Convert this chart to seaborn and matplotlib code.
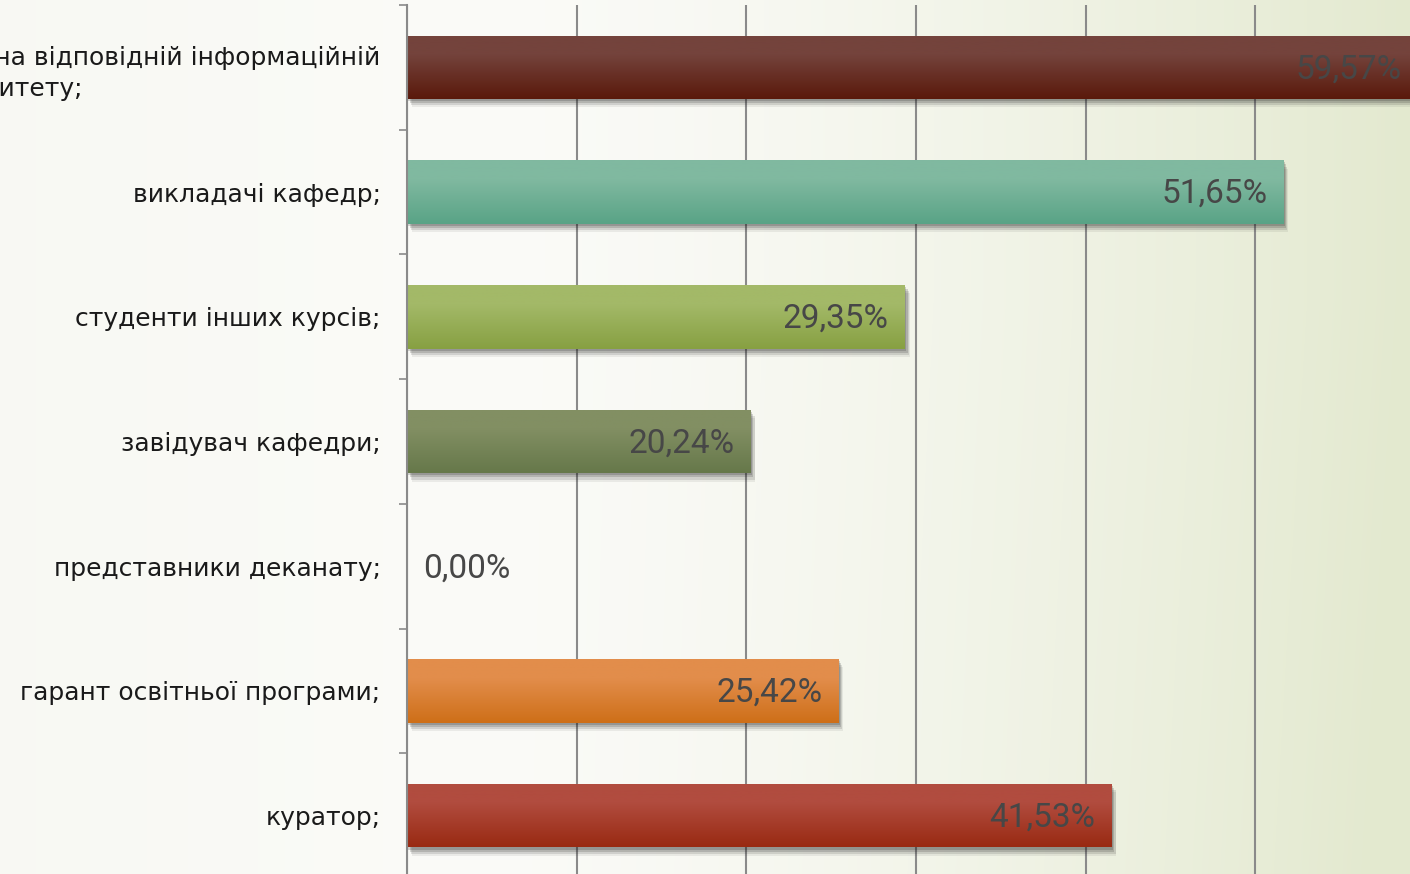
import numpy as np
import pandas as pd
import matplotlib
matplotlib.use("Agg")
import matplotlib.pyplot as plt
import matplotlib.patheffects as pe
from matplotlib.colors import to_rgb
import seaborn as sns

# --- données ---
categories = [
    "вся інформація на відповідній інформаційній\nсторінці університету;",
    "викладачі кафедр;",
    "студенти інших курсів;",
    "завідувач кафедри;",
    "представники деканату;",
    "гарант освітньої програми;",
    "куратор;",
]
values = [59.57, 51.65, 29.35, 20.24, 0.00, 25.42, 41.53]
top_colors = ["#74433c", "#80b9a0", "#a3b968", "#828f63", "#cccccc", "#e28d4b", "#b14c3f"]
bottom_colors = ["#5a190b", "#59a386", "#87a042", "#66784a", "#aaaaaa", "#ce6f18", "#992a12"]
xticks = [0, 10, 20, 30, 40, 50, 60]

df = pd.DataFrame({"categorie": categories, "valeur": values})

sns.set_theme(style="white")
plt.rcParams["font.family"] = ["DejaVu Sans"]

fig = plt.figure(figsize=(14.1, 8.74), dpi=100)

# --- fond dégradé ---
bg = fig.add_axes([0, 0, 1, 1], zorder=-10)
H, W = 874, 1410
yy, xx = np.mgrid[0:H, 0:W]
u = np.clip((xx - 450) / 960.0, 0, 1)
t = u ** 1.6
t = t + 0.12 * np.clip((480 - xx) / 480.0, 0, 1)
t = t + 0.06 * np.clip((yy - 300) / 574.0, 0, 1) * u
t = np.clip(t, 0, 1)
c0 = np.array(to_rgb("#fbfbf8"))
c1 = np.array(to_rgb("#e3e9cf"))
img = c0[None, None, :] * (1 - t[..., None]) + c1[None, None, :] * t[..., None]
bg.imshow(img, aspect="auto", extent=(0, 1, 0, 1))
bg.set_axis_off()

# --- graphique ---
ax = fig.add_axes([407 / 1410, -4 / 874, 1018 / 1410, 873 / 874])
ax.set_facecolor("none")

sns.barplot(data=df, x="valeur", y="categorie", hue="categorie",
            palette=top_colors, legend=False, width=0.51, orient="h",
            linewidth=0, ax=ax, zorder=3)

ax.set_xlim(0, 60)
ylim = ax.get_ylim()

# dégradé et ombre sur chaque barre
for bar, ctop, cbot in zip(ax.patches, top_colors, bottom_colors):
    w = bar.get_width()
    if w <= 0:
        bar.set_visible(False)
        continue
    bar.set_linewidth(0)
    bar.set_path_effects([
        pe.SimplePatchShadow(offset=(1.0, -1.5), shadow_rgbFace="k", alpha=0.18),
        pe.SimplePatchShadow(offset=(2.0, -3.0), shadow_rgbFace="k", alpha=0.16),
        pe.SimplePatchShadow(offset=(3.0, -4.5), shadow_rgbFace="k", alpha=0.12),
        pe.SimplePatchShadow(offset=(3.5, -6.0), shadow_rgbFace="k", alpha=0.07),
        pe.Normal(),
    ])
    s = np.linspace(0, 1, 100)
    k = np.clip((s - 0.3) / 0.7, 0, 1)
    grad = (np.array(to_rgb(ctop))[None, :] * (1 - k[:, None])
            + np.array(to_rgb(cbot))[None, :] * k[:, None])
    y0 = bar.get_y()
    h = bar.get_height()
    im = ax.imshow(grad[:, None, :], aspect="auto", origin="upper",
                   extent=(bar.get_x(), bar.get_x() + w, y0 + h, y0), zorder=4)
    im.set_clip_path(bar)

ax.set_xlim(0, 60)
ax.set_ylim(ylim)

# étiquettes de valeur
for i, v in enumerate(values):
    txt = f"{v:.2f}".replace(".", ",") + "%"
    if v > 0:
        ax.annotate(txt, (v, i), xytext=(-16, -2), textcoords="offset pixels",
                    ha="right", va="center", fontsize=24, color="#474747",
                    family="Roboto", fontweight="normal", zorder=6)
    else:
        ax.annotate(txt, (v, i), xytext=(16, -2), textcoords="offset pixels",
                    ha="left", va="center", fontsize=24, color="#474747",
                    family="Roboto", fontweight="normal", zorder=6)

# axes, grille, graduations
ax.set_xticks(xticks)
ax.xaxis.grid(True, color="#8a8a8a", linewidth=1.5, zorder=1)
ax.set_axisbelow(True)
ax.tick_params(axis="x", length=0, labelbottom=False)
ax.set_xlabel("")
ax.set_ylabel("")
for side in ["top", "right", "bottom"]:
    ax.spines[side].set_visible(False)
ax.spines["left"].set_color("#8a8a8a")
ax.spines["left"].set_linewidth(1.5)
ax.spines["left"].set_zorder(5)

ax.set_yticks(np.arange(-0.5, len(categories), 1.0), minor=True)
ax.tick_params(axis="y", which="minor", length=6, width=1.2, color="#8a8a8a", left=True)
ax.tick_params(axis="y", which="major", length=0, pad=19, labelsize=18,
               labelcolor="#1a1a1a")
for lbl in ax.get_yticklabels():
    lbl.set_multialignment("left")
    lbl.set_linespacing(1.4)

fig.savefig("out.png", dpi=100)
